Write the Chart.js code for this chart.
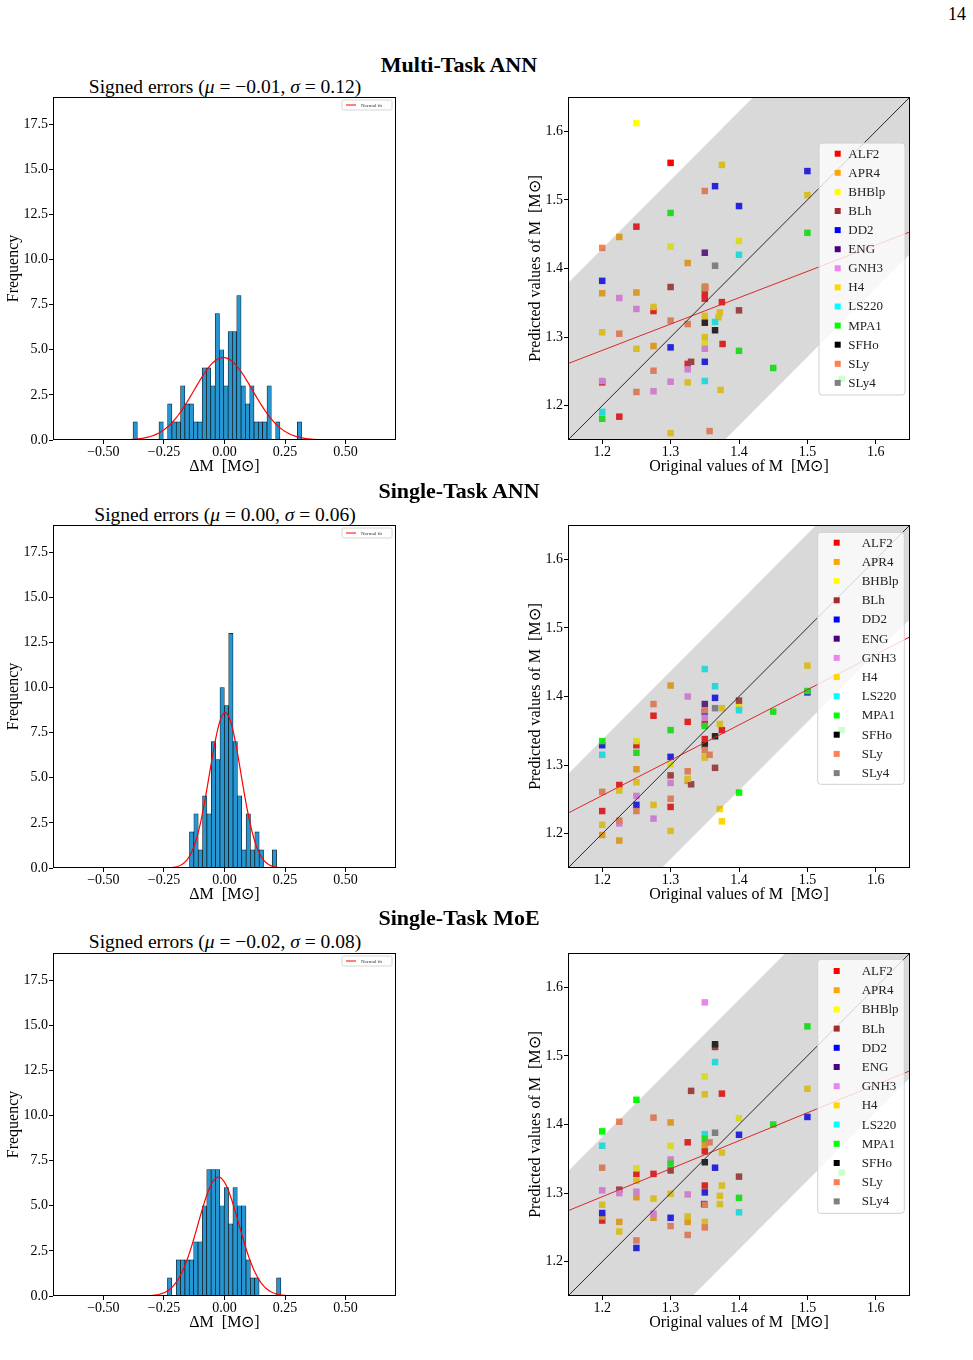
<!DOCTYPE html>
<html>
<head>
<meta charset="utf-8">
<script src="https://cdn.jsdelivr.net/npm/chart.js@4.4.1/dist/chart.umd.min.js"></script>
<style>
  body { margin: 0; background: #fff; }
  #page { position: relative; width: 973px; height: 1360px; font-family: 'Liberation Serif', serif; color: #000; }
  .lbl { position: absolute; transform: translate(-50%, -50%); white-space: nowrap; line-height: 1; }
  .head { font-weight: bold; font-size: 22px; }
  .sub { font-size: 19.5px; }
  canvas { position: absolute; }
</style>
</head>
<body>
<div id="page">
  <div class="lbl" style="left:957px;top:14px;font-size:18px">14</div>

  <div class="lbl head" style="left:459px;top:65px">Multi-Task ANN</div>
  <div class="lbl sub" style="left:225px;top:87px">Signed errors (<i>μ</i> = −0.01, <i>σ</i> = 0.12)</div>
  <canvas id="hist-mt" width="405" height="392" style="left:0;top:92px"></canvas>
  <canvas id="mass-mt" width="400" height="392" style="left:520px;top:92px"></canvas>

  <div class="lbl head" style="left:459px;top:491px">Single-Task ANN</div>
  <div class="lbl sub" style="left:225px;top:515px">Signed errors (<i>μ</i> = 0.00, <i>σ</i> = 0.06)</div>
  <canvas id="hist-st" width="405" height="392" style="left:0;top:520px"></canvas>
  <canvas id="mass-st" width="400" height="392" style="left:520px;top:520px"></canvas>

  <div class="lbl head" style="left:459px;top:918px">Single-Task MoE</div>
  <div class="lbl sub" style="left:225px;top:942px">Signed errors (<i>μ</i> = −0.02, <i>σ</i> = 0.08)</div>
  <canvas id="hist-moe" width="405" height="392" style="left:0;top:948px"></canvas>
  <canvas id="mass-moe" width="400" height="392" style="left:520px;top:948px"></canvas>
</div>

<script>
const serif = "'Liberation Serif', serif";

// axes
const HIST_X_MIN = -0.708, HIST_X_MAX = 0.708, HIST_Y_MAX = 19;
const M_MIN = 1.15, M_MAX = 1.65;
const histTicksX = [-0.5, -0.25, 0, 0.25, 0.5];
const histTicksY = [0, 2.5, 5, 7.5, 10, 12.5, 15, 17.5];
const massTicks = [1.2, 1.3, 1.4, 1.5, 1.6];

const eosNames = ['ALF2', 'APR4', 'BHBlp', 'BLh', 'DD2', 'ENG', 'GNH3', 'H4', 'LS220', 'MPA1', 'SFHo', 'SLy', 'SLy4'];
const eosColors = ['#ff0000', '#ffa500', '#ffff00', '#a52a2a', '#0000ff', '#4b0082', '#ee82ee', '#ffd700', '#00ffff', '#00ff00', '#000000', '#ff7f50', '#808080'];

// histograms of signed errors: first bin edge, bin width, counts per bin
const mtBinStart = -0.3776, mtBinWidth = 0.01784;
const mtCounts = [1, 0, 0, 0, 0, 0, 1, 0, 2, 1, 1, 3, 2, 2, 1, 1, 4, 4, 3, 7, 5, 3, 6, 6, 8, 3, 2, 3, 1, 1, 1, 3, 0, 1, 0, 0, 0, 0, 1];
const mtFitMu = -0.005, mtFitSigma = 0.12;

const stBinStart = -0.1445, stBinWidth = 0.01798;
const stCounts = [2, 3, 1, 4, 3, 7, 6, 10, 9, 13, 7, 4, 1, 3, 1, 2, 1, 0, 0, 1];
const stFitMu = 0.003, stFitSigma = 0.065;

const moeBinStart = -0.2354, moeBinWidth = 0.01801;
const moeCounts = [1, 0, 2, 2, 2, 2, 3, 3, 5, 7, 7, 7, 5, 6, 4, 6, 5, 5, 2, 1, 1, 0, 0, 0, 0, 1];
const moeFitMu = -0.025, moeFitSigma = 0.084;

// predicted vs original mass: [eos, original, predicted]
const mtPoints = [
  ['BHBlp', 1.25, 1.612], ['ALF2', 1.3, 1.554], ['H4', 1.375, 1.551], ['DD2', 1.5, 1.542],
  ['DD2', 1.365, 1.520], ['SLy', 1.35, 1.513], ['H4', 1.5, 1.507], ['DD2', 1.4, 1.491],
  ['MPA1', 1.3, 1.481], ['ALF2', 1.25, 1.461], ['MPA1', 1.5, 1.452], ['APR4', 1.225, 1.446],
  ['SLy', 1.2, 1.430], ['BHBlp', 1.3, 1.432], ['BHBlp', 1.4, 1.440], ['LS220', 1.4, 1.420],
  ['ENG', 1.35, 1.423], ['APR4', 1.325, 1.408], ['SLy4', 1.365, 1.404], ['DD2', 1.2, 1.382],
  ['BLh', 1.3, 1.373], ['APR4', 1.35, 1.374], ['MPA1', 1.35, 1.371], ['SLy', 1.351, 1.372],
  ['ALF2', 1.35, 1.364], ['ALF2', 1.35, 1.356], ['APR4', 1.2, 1.364], ['APR4', 1.25, 1.365],
  ['GNH3', 1.225, 1.357], ['GNH3', 1.25, 1.341], ['ALF2', 1.275, 1.338], ['H4', 1.275, 1.344],
  ['ALF2', 1.375, 1.351], ['BLh', 1.4, 1.339], ['SLy', 1.3, 1.324], ['SLy', 1.325, 1.319],
  ['H4', 1.35, 1.331], ['H4', 1.372, 1.336], ['H4', 1.37, 1.329], ['SFHo', 1.35, 1.321],
  ['LS220', 1.365, 1.322], ['SFHo', 1.365, 1.310], ['H4', 1.2, 1.307], ['SLy', 1.225, 1.305],
  ['H4', 1.35, 1.300], ['BHBlp', 1.35, 1.292], ['ALF2', 1.376, 1.290], ['APR4', 1.275, 1.287],
  ['H4', 1.25, 1.283], ['DD2', 1.3, 1.285], ['GNH3', 1.35, 1.283], ['MPA1', 1.4, 1.280],
  ['DD2', 1.35, 1.264], ['BLh', 1.33, 1.264], ['ALF2', 1.325, 1.261], ['GNH3', 1.325, 1.253],
  ['MPA1', 1.45, 1.255], ['SLy', 1.275, 1.251], ['ALF2', 1.2, 1.234], ['GNH3', 1.2, 1.236],
  ['GNH3', 1.3, 1.235], ['H4', 1.325, 1.234], ['LS220', 1.35, 1.236], ['GNH3', 1.275, 1.221],
  ['SLy', 1.25, 1.220], ['H4', 1.373, 1.223], ['MPA1', 1.55, 1.239], ['LS220', 1.2, 1.191],
  ['MPA1', 1.2, 1.181], ['ALF2', 1.225, 1.184], ['H4', 1.3, 1.160], ['SLy', 1.357, 1.163],
];
const mtFitA = 0.8198, mtFitB = 0.384, mtBand = 0.229;

const stPoints = [
  ['LS220', 1.35, 1.440], ['H4', 1.5, 1.445], ['APR4', 1.3, 1.416], ['LS220', 1.365, 1.415],
  ['GNH3', 1.325, 1.400], ['DD2', 1.365, 1.398], ['BLh', 1.4, 1.394], ['DD2', 1.5, 1.406],
  ['MPA1', 1.5, 1.408], ['SLy', 1.275, 1.389], ['ENG', 1.35, 1.389], ['SLy4', 1.365, 1.383],
  ['H4', 1.375, 1.383], ['BHBlp', 1.4, 1.385], ['LS220', 1.4, 1.380], ['DD2', 1.35, 1.377],
  ['SLy', 1.35, 1.380], ['MPA1', 1.45, 1.378], ['ALF2', 1.275, 1.372], ['GNH3', 1.35, 1.369],
  ['ALF2', 1.325, 1.363], ['ALF2', 1.35, 1.360], ['MPA1', 1.35, 1.357], ['H4', 1.372, 1.360],
  ['ALF2', 1.375, 1.351], ['MPA1', 1.3, 1.351], ['SFHo', 1.365, 1.342], ['ALF2', 1.35, 1.338],
  ['DD2', 1.2, 1.329], ['MPA1', 1.2, 1.335], ['ALF2', 1.25, 1.329], ['BHBlp', 1.25, 1.335],
  ['SFHo', 1.35, 1.329], ['LS220', 1.2, 1.315], ['MPA1', 1.25, 1.318], ['SLy', 1.35, 1.322],
  ['SLy', 1.357, 1.315], ['BHBlp', 1.35, 1.314], ['H4', 1.35, 1.311], ['DD2', 1.3, 1.312],
  ['BHBlp', 1.3, 1.301], ['BLh', 1.365, 1.296], ['APR4', 1.25, 1.294], ['SLy', 1.325, 1.291],
  ['BLh', 1.3, 1.285], ['APR4', 1.325, 1.277], ['H4', 1.325, 1.280], ['BLh', 1.33, 1.272],
  ['ALF2', 1.225, 1.271], ['H4', 1.25, 1.275], ['GNH3', 1.3, 1.274], ['SLy', 1.2, 1.261],
  ['H4', 1.225, 1.263], ['MPA1', 1.4, 1.260], ['GNH3', 1.25, 1.255], ['SLy', 1.3, 1.251],
  ['DD2', 1.25, 1.242], ['H4', 1.275, 1.242], ['ALF2', 1.3, 1.239], ['H4', 1.372, 1.236],
  ['ALF2', 1.2, 1.233], ['SLy', 1.25, 1.233], ['GNH3', 1.275, 1.222], ['GNH3', 1.225, 1.215],
  ['SLy', 1.225, 1.219], ['H4', 1.375, 1.218], ['H4', 1.2, 1.213], ['H4', 1.3, 1.204],
  ['APR4', 1.2, 1.198], ['APR4', 1.225, 1.190], ['MPA1', 1.55, 1.351],
];
const stFitA = 0.6389, stFitB = 0.514, stBand = 0.137;

const moePoints = [
  ['GNH3', 1.35, 1.578], ['MPA1', 1.5, 1.543], ['BLh', 1.365, 1.513], ['SFHo', 1.365, 1.517],
  ['LS220', 1.365, 1.491], ['BHBlp', 1.35, 1.470], ['BLh', 1.33, 1.449], ['H4', 1.35, 1.444],
  ['ALF2', 1.375, 1.445], ['H4', 1.5, 1.452], ['MPA1', 1.25, 1.436], ['DD2', 1.5, 1.411],
  ['BHBlp', 1.4, 1.409], ['SLy', 1.275, 1.410], ['SLy', 1.225, 1.404], ['APR4', 1.3, 1.403],
  ['MPA1', 1.45, 1.400], ['MPA1', 1.2, 1.390], ['DD2', 1.4, 1.385], ['SLy4', 1.365, 1.388],
  ['LS220', 1.35, 1.386], ['MPA1', 1.35, 1.379], ['ALF2', 1.325, 1.374], ['SLy', 1.357, 1.374],
  ['LS220', 1.2, 1.369], ['APR4', 1.35, 1.370], ['BHBlp', 1.3, 1.369], ['ALF2', 1.35, 1.361],
  ['H4', 1.375, 1.359], ['GNH3', 1.3, 1.349], ['MPA1', 1.3, 1.343], ['SFHo', 1.35, 1.345],
  ['SLy', 1.2, 1.337], ['DD2', 1.365, 1.337], ['BHBlp', 1.25, 1.336], ['BLh', 1.3, 1.333],
  ['ALF2', 1.25, 1.328], ['ALF2', 1.275, 1.328], ['BLh', 1.4, 1.324], ['H4', 1.25, 1.318],
  ['BLh', 1.225, 1.305], ['ALF2', 1.35, 1.311], ['H4', 1.375, 1.311], ['GNH3', 1.2, 1.304],
  ['GNH3', 1.225, 1.300], ['APR4', 1.25, 1.294], ['GNH3', 1.25, 1.302], ['DD2', 1.35, 1.301],
  ['H4', 1.3, 1.299], ['GNH3', 1.325, 1.298], ['H4', 1.372, 1.296], ['APR4', 1.275, 1.264],
  ['H4', 1.275, 1.292], ['MPA1', 1.4, 1.293], ['H4', 1.2, 1.283], ['ENG', 1.349, 1.284],
  ['SLy', 1.35, 1.283], ['H4', 1.372, 1.284], ['LS220', 1.4, 1.272], ['APR4', 1.2, 1.266],
  ['ALF2', 1.2, 1.260], ['DD2', 1.2, 1.271], ['GNH3', 1.275, 1.270], ['DD2', 1.3, 1.264],
  ['H4', 1.325, 1.266], ['APR4', 1.225, 1.258], ['APR4', 1.325, 1.258], ['H4', 1.35, 1.258],
  ['SLy', 1.3, 1.252], ['SLy', 1.35, 1.250], ['H4', 1.225, 1.244], ['SLy', 1.325, 1.239],
  ['SLy', 1.25, 1.231], ['DD2', 1.25, 1.220], ['MPA1', 1.55, 1.330],
];
const moeFitA = 0.8051, moeFitB = 0.408, moeBand = 0.182;

// frame around the plot area + the little legends
const panelDecor = {
  id: 'panelDecor',
  afterDatasetsDraw(chart, args, opts) {
    const { ctx, chartArea: a } = chart;
    ctx.save();
    if (opts.fitKey) {
      const x = a.right - 54, y = a.top + 3;
      ctx.beginPath();
      ctx.roundRect(x, y, 50, 10, 1.5);
      ctx.fillStyle = 'rgba(255,255,255,0.8)';
      ctx.fill();
      ctx.strokeStyle = '#cccccc';
      ctx.lineWidth = 0.8;
      ctx.stroke();
      ctx.strokeStyle = '#ff0000';
      ctx.lineWidth = 1;
      ctx.beginPath();
      ctx.moveTo(x + 4, y + 5);
      ctx.lineTo(x + 14, y + 5);
      ctx.stroke();
      ctx.fillStyle = '#333';
      ctx.font = `5px ${serif}`;
      ctx.textBaseline = 'middle';
      ctx.fillText('Normal fit', x + 19, y + 5.3);
    }
    const L = opts.eosKey;
    if (L) {
      ctx.beginPath();
      ctx.roundRect(a.left + L.x, a.top + L.y, L.w, L.h, 3);
      ctx.fillStyle = 'rgba(255,255,255,0.8)';
      ctx.fill();
      ctx.strokeStyle = '#d0d0d0';
      ctx.lineWidth = 1;
      ctx.stroke();
      ctx.font = `13px ${serif}`;
      ctx.textBaseline = 'middle';
      ctx.textAlign = 'left';
      eosNames.forEach((name, i) => {
        const y = a.top + L.y0 + i * L.step;
        ctx.fillStyle = eosColors[i];
        ctx.fillRect(a.left + L.mx - 3, y - 3, 6, 6);
        ctx.fillStyle = '#222';
        ctx.fillText(name, a.left + L.tx, y + 0.5);
      });
    }
    ctx.restore();
  },
  afterDraw(chart) {
    const { ctx, chartArea: a } = chart;
    ctx.save();
    ctx.strokeStyle = '#000';
    ctx.lineWidth = 1;
    ctx.strokeRect(Math.round(a.left) + 0.5, Math.round(a.top) + 0.5,
      Math.round(a.right - a.left) - 1, Math.round(a.bottom - a.top) - 1);
    ctx.restore();
  },
};

function scaleOpts(min, max, ticks, fmt, title, fitSize, isX, titlePad) {
  return {
    type: 'linear', min, max, offset: false,
    afterBuildTicks: s => { s.ticks = ticks.map(v => ({ value: v })); },
    afterFit: s => {
      // fixed axis box, and no extra room claimed for the end labels
      if (isX) s.height = fitSize; else s.width = fitSize;
      s.paddingTop = 0; s.paddingBottom = 0; s.paddingLeft = 0; s.paddingRight = 0;
    },
    grid: { display: true, drawOnChartArea: false, drawTicks: true, tickLength: 4, tickColor: '#000', offset: false },
    border: { display: false },
    ticks: { color: '#000', font: { family: serif, size: 14 }, padding: isX ? 0 : 1, autoSkip: false, maxRotation: 0, callback: fmt },
    title: {
      display: true, text: title, color: '#000', font: { family: serif, size: 16 },
      padding: isX ? { top: 0, bottom: titlePad } : { top: titlePad, bottom: 0 },
    },
  };
}

const fmtSigned = v => (v < 0 ? '\u2212' : '') + Math.abs(v).toFixed(2);
const fmt1 = v => v.toFixed(1);

function histChart(id, binStart, binWidth, counts, mu, sigma) {
  const bars = counts.map((c, i) => ({ x: binStart + (i + 0.5) * binWidth, y: c }));
  const n = counts.reduce((s, c) => s + c, 0);
  const amp = n * binWidth / (sigma * Math.sqrt(2 * Math.PI));
  const curve = [];
  for (let i = 0; i <= 300; i++) {
    const x = HIST_X_MIN + (HIST_X_MAX - HIST_X_MIN) * i / 300;
    curve.push({ x, y: amp * Math.exp(-0.5 * ((x - mu) / sigma) ** 2) });
  }
  new Chart(document.getElementById(id), {
    type: 'bar',
    data: {
      datasets: [
        { type: 'line', data: curve, borderColor: '#ff0000', borderWidth: 1.2, pointRadius: 0, clip: 0, order: 0 },
        {
          type: 'bar', data: bars, backgroundColor: '#2596d1', borderColor: '#111',
          borderWidth: 0.7, categoryPercentage: 1, barPercentage: 1, order: 1,
        },
      ],
    },
    options: {
      responsive: false, animation: false, events: [],
      layout: { padding: { top: 5, right: 9, left: 0, bottom: 0 } },
      plugins: { legend: { display: false }, tooltip: { enabled: false }, panelDecor: { fitKey: true } },
      scales: {
        x: scaleOpts(HIST_X_MIN, HIST_X_MAX, histTicksX, fmtSigned, '\u0394M  [M\u2299]', 44, true, 8),
        y: scaleOpts(0, HIST_Y_MAX, histTicksY, fmt1, 'Frequency', 53, false, 4),
      },
    },
    plugins: [panelDecor],
  });
}

function massChart(id, points, fitA, fitB, band, key) {
  const ends = [M_MIN, M_MAX];
  const datasets = [
    { type: 'line', data: ends.map(x => ({ x, y: x + band })), borderColor: 'rgba(0,0,0,0)', pointRadius: 0, fill: '+1', backgroundColor: 'rgba(128,128,128,0.3)', clip: 0, order: 0 },
    { type: 'line', data: ends.map(x => ({ x, y: x - band })), borderColor: 'rgba(0,0,0,0)', pointRadius: 0, fill: false, clip: 0, order: 0 },
    { type: 'line', data: ends.map(x => ({ x, y: x })), borderColor: '#000', borderWidth: 1, pointRadius: 0, clip: 0, order: 1 },
    { type: 'line', data: ends.map(x => ({ x, y: fitA + fitB * x })), borderColor: '#ff0000', borderWidth: 1, pointRadius: 0, clip: 0, order: 1 },
  ];
  eosNames.forEach((name, i) => {
    const pts = points.filter(p => p[0] === name).map(p => ({ x: p[1], y: p[2] }));
    if (!pts.length) return;
    datasets.push({
      type: 'scatter', label: name, data: pts, backgroundColor: eosColors[i],
      pointStyle: 'rect', pointRadius: 4.6, borderWidth: 0, order: 2 + (eosNames.length - i),
    });
  });
  new Chart(document.getElementById(id), {
    type: 'scatter',
    data: { datasets },
    options: {
      responsive: false, animation: false, events: [],
      layout: { padding: { top: 5, right: 10, left: 0, bottom: 0 } },
      plugins: { legend: { display: false }, tooltip: { enabled: false }, panelDecor: { eosKey: key } },
      scales: {
        x: scaleOpts(M_MIN, M_MAX, massTicks, fmt1, 'Original values of M  [M\u2299]', 44, true, 8),
        y: scaleOpts(M_MIN, M_MAX, massTicks, fmt1, 'Predicted values of M  [M\u2299]', 48, false, 6),
      },
    },
    plugins: [panelDecor],
  });
}

histChart('hist-mt', mtBinStart, mtBinWidth, mtCounts, mtFitMu, mtFitSigma);
histChart('hist-st', stBinStart, stBinWidth, stCounts, stFitMu, stFitSigma);
histChart('hist-moe', moeBinStart, moeBinWidth, moeCounts, moeFitMu, moeFitSigma);

massChart('mass-mt', mtPoints, mtFitA, mtFitB, mtBand,
  { x: 251, y: 46, w: 86, h: 252, mx: 269.7, tx: 280.3, y0: 56.7, step: 19.1 });
massChart('mass-st', stPoints, stFitA, stFitB, stBand,
  { x: 249.7, y: 7.3, w: 86.6, h: 252, mx: 268.7, tx: 293.7, y0: 17.7, step: 19.2 });
massChart('mass-moe', moePoints, moeFitA, moeFitB, moeBand,
  { x: 249.7, y: 6.3, w: 86.6, h: 254, mx: 268.7, tx: 293.7, y0: 18, step: 19.2 });
</script>
</body>
</html>
